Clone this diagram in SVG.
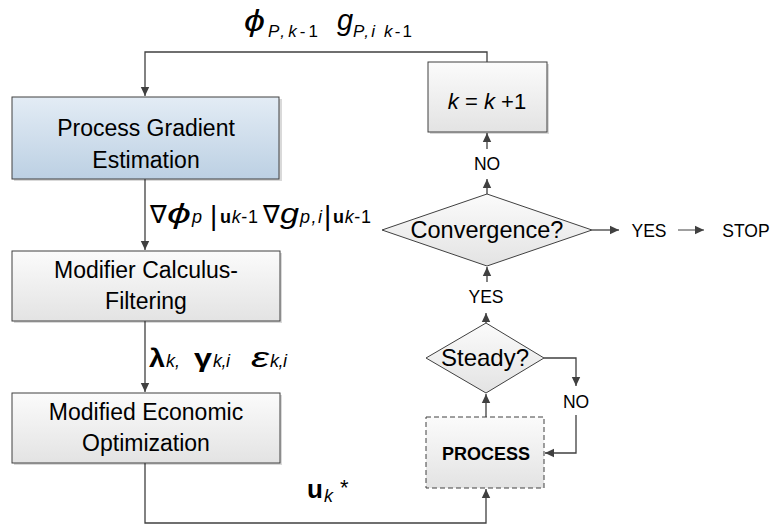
<svg xmlns="http://www.w3.org/2000/svg" width="773" height="526" viewBox="0 0 773 526">
<style>
.t{font-family:"Liberation Sans",Arial,sans-serif;fill:#000;}
.box{stroke:#404040;stroke-width:1;fill:url(#gray);}
.sh{fill:#000;opacity:0.15;}
.ln{fill:none;stroke:#404040;stroke-width:1.3;}
.i{font-style:italic;}
.b{font-weight:bold;}
.lbl{font-size:23px;text-anchor:middle;}
.yn{font-size:17.5px;text-anchor:middle;}
</style>
<defs>
<linearGradient id="gray" x1="0" y1="0" x2="0" y2="1"><stop offset="0" stop-color="#fbfbfb"/><stop offset="1" stop-color="#e3e3e3"/></linearGradient>
<linearGradient id="blue" x1="0" y1="0" x2="0" y2="1"><stop offset="0" stop-color="#e3ecf5"/><stop offset="1" stop-color="#bcd0e3"/></linearGradient>
<marker id="ah" markerWidth="10" markerHeight="10" refX="9" refY="5" orient="auto" markerUnits="userSpaceOnUse"><path d="M0,0.8 L9,5 L0,9.2 Z" fill="#404040"/></marker>
</defs>
<g id="connectors">
<path class="ln" d="M487,62 V52 H145 V96" marker-end="url(#ah)"/>
<path class="ln" d="M145,179 V250" marker-end="url(#ah)"/>
<path class="ln" d="M145,321 V392" marker-end="url(#ah)"/>
<path class="ln" d="M145,463 V523 H486 V489" marker-end="url(#ah)"/>
<path class="ln" d="M486,417 V394" marker-end="url(#ah)"/>
<path class="ln" d="M544,358 H576 V386" marker-end="url(#ah)"/>
<path class="ln" d="M576,415 V453 H545" marker-end="url(#ah)"/>
<path class="ln" d="M486,323 V313" marker-end="url(#ah)"/>
<path class="ln" d="M487,282 V267" marker-end="url(#ah)"/>
<path class="ln" d="M487,194 V179" marker-end="url(#ah)"/>
<path class="ln" d="M487,149 V133" marker-end="url(#ah)"/>
<path class="ln" d="M592,230 H619" marker-end="url(#ah)"/>
<path d="M678,230 H704" fill="none" stroke="#404040" stroke-width="1" marker-end="url(#ah)"/>
</g>
<g id="label-top">
<text class="t i" x="244" y="31" font-size="29" textLength="21" lengthAdjust="spacingAndGlyphs">ϕ</text>
<text class="t" x="268" y="37" font-size="17" textLength="50" lengthAdjust="spacing"><tspan class="i">P,k</tspan>-1</text>
<text class="t i" x="337" y="30" font-size="29">g</text>
<text class="t" x="353" y="37" font-size="17" textLength="59" lengthAdjust="spacing"><tspan class="i">P,i k</tspan>-1</text>
</g>
<g id="label-grad">
<text class="t" x="150" y="223" font-size="25">∇</text>
<text class="t i" x="167" y="223" font-size="28" textLength="24" lengthAdjust="spacingAndGlyphs">ϕ</text>
<text class="t i" x="192" y="223" font-size="18">p</text>
<text class="t" x="210" y="225" font-size="28">|</text>
<text class="t" x="220" y="223" font-size="18" textLength="38" lengthAdjust="spacing"><tspan class="b">u</tspan><tspan class="i">k</tspan>-1</text>
<text class="t" x="263" y="223" font-size="25">∇</text>
<text class="t i" x="280" y="223" font-size="28" textLength="19" lengthAdjust="spacingAndGlyphs">g</text>
<text class="t i" x="300" y="223" font-size="18" textLength="22" lengthAdjust="spacing">p,i</text>
<text class="t" x="324" y="225" font-size="28">|</text>
<text class="t" x="333" y="223" font-size="18" textLength="38" lengthAdjust="spacing"><tspan class="b">u</tspan><tspan class="i">k</tspan>-1</text>
</g>
<g id="label-mod">
<text class="t b" x="149" y="367" font-size="25" textLength="16" lengthAdjust="spacingAndGlyphs">λ</text>
<text class="t i" x="166" y="367" font-size="18">k,</text>
<text class="t b" x="194" y="367" font-size="25" textLength="18" lengthAdjust="spacingAndGlyphs">γ</text>
<text class="t i" x="213" y="367" font-size="18" textLength="17" lengthAdjust="spacing">k,i</text>
<text class="t i" x="251" y="367" font-size="27" textLength="18" lengthAdjust="spacingAndGlyphs">ε</text>
<text class="t i" x="270" y="367" font-size="18" textLength="17" lengthAdjust="spacing">k,i</text>
</g>
<g id="label-u">
<text class="t b" x="307" y="498" font-size="26">u</text>
<text class="t i" x="324" y="502" font-size="18">k</text>
<text class="t" x="340" y="495" font-size="22">*</text>
</g>
<g id="pge">
<rect class="sh" x="14" y="99" width="268" height="82"/>
<rect x="12" y="97" width="267" height="82" fill="url(#blue)" stroke="#404040" stroke-width="1"/>
<text class="t lbl" x="146" y="136">Process Gradient</text>
<text class="t lbl" x="146" y="168">Estimation</text>
</g>
<g id="mcf">
<rect class="sh" x="14" y="253" width="268" height="70"/>
<rect class="box" x="12" y="251" width="268" height="70"/>
<text class="t lbl" x="146" y="278">Modifier Calculus-</text>
<text class="t lbl" x="146" y="309">Filtering</text>
</g>
<g id="meo">
<rect class="sh" x="14" y="395" width="268" height="70"/>
<rect class="box" x="12" y="393" width="268" height="70"/>
<text class="t lbl" x="146" y="420">Modified Economic</text>
<text class="t lbl" x="146" y="451">Optimization</text>
</g>
<g id="kbox">
<rect class="sh" x="430" y="64" width="119" height="70"/>
<rect class="box" x="428" y="62" width="119" height="70"/>
<text class="t" y="109" font-size="22" text-anchor="middle" x="487"><tspan class="i">k</tspan> = <tspan class="i">k</tspan> +1</text>
</g>
<g id="no-top"><text class="t yn" x="487" y="170">NO</text></g>
<g id="convergence">
<path class="box" d="M382,230 L487,194 L592,230 L487,266 Z"/>
<text class="t" x="487" y="238" font-size="23.5" text-anchor="middle">Convergence?</text>
</g>
<g id="yes-stop">
<text class="t yn" x="649" y="237">YES</text>
<text class="t yn" x="746" y="237">STOP</text>
</g>
<g id="yes-mid"><text class="t yn" x="486" y="303">YES</text></g>
<g id="steady">
<path class="box" d="M426,358 L486,323 L544,358 L486,393 Z"/>
<text class="t" x="485" y="366" font-size="24" text-anchor="middle">Steady?</text>
</g>
<g id="no-right"><text class="t yn" x="576" y="408">NO</text></g>
<g id="process">
<rect class="box" x="426" y="417" width="118" height="71" stroke="#8c8c8c" stroke-dasharray="5,3"/>
<text class="t b" x="486" y="460" font-size="18" text-anchor="middle">PROCESS</text>
</g>
</svg>
